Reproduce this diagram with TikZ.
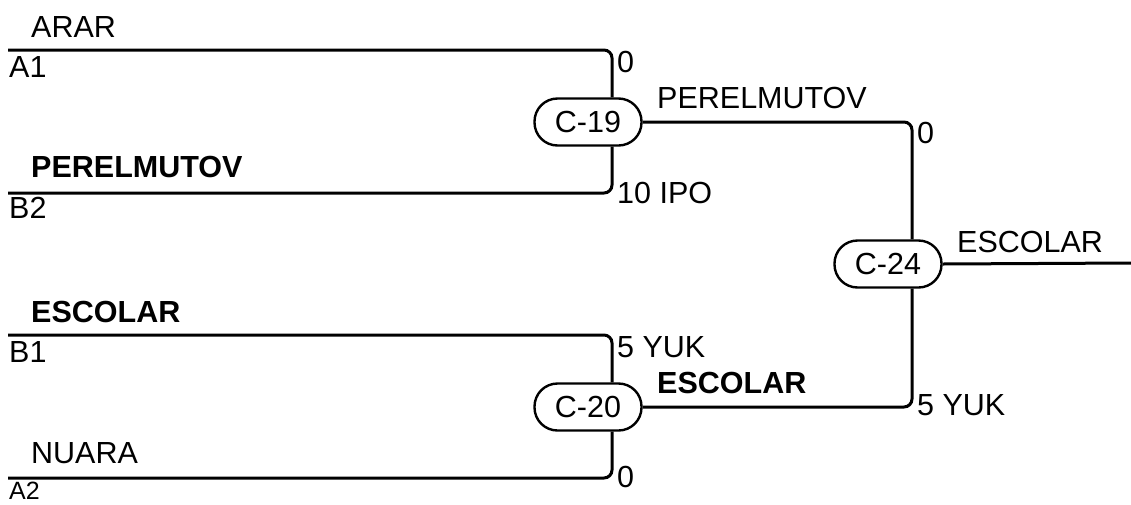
\documentclass[tikz,border=0pt]{standalone}
\usepackage{fontspec}
\setmainfont{Liberation Sans}
\usepackage{tikz}
\usetikzlibrary{positioning}

\begin{document}
\begin{tikzpicture}[x=1pt, y=-1pt, font=\fontsize{30.5}{36}\selectfont,
  game/.style={draw, line width=2.4pt, rounded corners=23pt, minimum width=107pt, minimum height=47pt, inner sep=0pt},
  wire/.style={line width=3pt, rounded corners=8pt},
  team/.style={anchor=base west, inner sep=0pt},
  winner/.style={team, font=\fontsize{30.5}{36}\selectfont\bfseries},
  score/.style={team}]
\useasboundingbox (0,0) rectangle (1131,504);
\node[game] (c19) at (588,122) {C-19};
\node[game] (c20) at (588,407) {C-20};
\node[game] (c24) at (888,264) {C-24};
\coordinate (j19) at (612,122);
\coordinate (j20) at (612,407);
\coordinate (j24) at (912,264);
\coordinate (a1) at (8,50);
\coordinate (b2) at (8,193);
\coordinate (b1) at (8,335);
\coordinate (a2) at (8,478);
\coordinate (out) at (1131,263);
\node[team] (nA1) at (31,37) {ARAR};
\node[team] (sA1) at (9,77) {A1};
\node[winner] (nB2) at (31,177) {PERELMUTOV};
\node[team] (sB2) at (9,218) {B2};
\node[winner] (nB1) at (31,322) {ESCOLAR};
\node[team] (sB1) at (9,362) {B1};
\node[team] (nA2) at (31,463) {NUARA};
\node[team, font=\fontsize{25}{30}\selectfont] (sA2) at (9,499) {A2};
\node[score] (r19a) at (617,72) {0};
\node[score] (r19b) at (617,203) {10 IPO};
\node[score] (r20a) at (617,357) {5 YUK};
\node[score] (r20b) at (617,487) {0};
\node[score] (r24a) at (917,143) {0};
\node[score] (r24b) at (917,415) {5 YUK};
\node[team] (w19) at (657,108) {PERELMUTOV};
\node[winner] (w20) at (657,393) {ESCOLAR};
\node[team] (w24) at (957,252) {ESCOLAR};
\draw[wire] (a1) -| (j19 |- c19.north);
\draw[wire] (b2) -| (j19 |- c19.south);
\draw[wire] (b1) -| (j20 |- c20.north);
\draw[wire] (a2) -| (j20 |- c20.south);
\draw[wire] (c19.east) -| (j24 |- c24.north);
\draw[wire] (c20.east) -| (j24 |- c24.south);
\draw[wire] (c24.east) -- (out);
\end{tikzpicture}
\end{document}
